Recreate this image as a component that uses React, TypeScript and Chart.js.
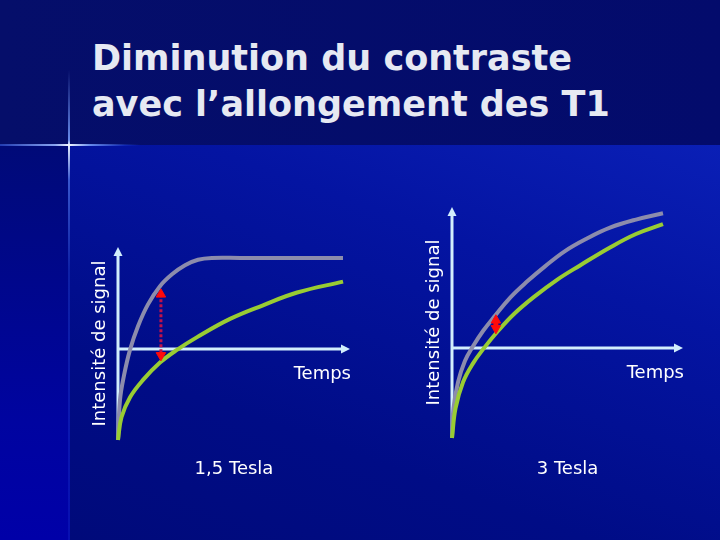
import { useEffect, useRef } from 'react';
import { Chart, registerables } from 'chart.js';

Chart.register(...registerables);

// ---- Text ----
const TITLE_LINES = ['Diminution du contraste', 'avec l\u2019allongement des T1'];
const Y_LABEL = 'Intensité de signal';
const X_LABEL = 'Temps';
const FIELD_LABELS = ['1,5 Tesla', '3 Tesla'];

// ---- 1,5 Tesla panel ----
const T15_SHORT_X = [0, 0.86, 2.59, 5.17, 8.62, 12.93, 18.1, 23.28, 28.88, 34.48, 40.52, 52.59, 96.98];
const T15_SHORT_Y = [-1, -0.56, -0.29, -0.01, 0.25, 0.49, 0.69, 0.82, 0.92, 0.98, 1.0, 1.0, 1.0];
const T15_LONG_X = [0, 1.5, 5.2, 10.8, 18.1, 25.4, 34.1, 48.3, 62.5, 77.2, 97];
const T15_LONG_Y = [-1, -0.75, -0.53, -0.34, -0.15, -0.01, 0.13, 0.33, 0.48, 0.62, 0.74];
const T15_GAP_X = [18.5, 18.5];
const T15_GAP_Y = [0.6, -0.07];
const T15_Y_RANGE = [-1, 1.12];

// ---- 3 Tesla panel ----
const T3_SHORT_X = [0, 0.65, 2.6, 5.63, 9.09, 13.42, 18.61, 25.11, 32.47, 40.26, 48.92, 58.44, 68.4, 79.65, 91.34];
const T3_SHORT_Y = [-1, -0.67, -0.38, -0.14, 0.02, 0.19, 0.36, 0.56, 0.74, 0.91, 1.08, 1.22, 1.34, 1.43, 1.5];
const T3_LONG_X = [0, 1.52, 4.76, 9.09, 13.85, 19.91, 26.84, 35.5, 45.45, 55.41, 68.4, 79.65, 91.34];
const T3_LONG_Y = [-1, -0.67, -0.38, -0.17, 0, 0.19, 0.38, 0.57, 0.76, 0.92, 1.12, 1.27, 1.38];
const T3_GAP_X = [19, 19];
const T3_GAP_Y = [0.31, 0.22];
const T3_Y_RANGE = [-1, 1.57];

const X_RANGE = [0, 100];

// ---- styles ----
const FONT = '"DejaVu Sans", sans-serif';
const GRAY = '#8c8cac';
const GREEN = '#99cc33';
const AXIS = '#d2eefc';
const RED = '#ff0a0a';
const RED_DASH = '#c0124a';
const TEXT = '#ffffff';

const zip = (xs: number[], ys: number[]) => xs.map((x, i) => ({ x, y: ys[i] }));

const arrowAxes = {
  id: 'arrowAxes',
  beforeDatasetsDraw(chart: any) {
    const { ctx, scales } = chart;
    const xs = scales.x;
    const ys = scales.y;
    const x0 = xs.getPixelForValue(0);
    const x1 = xs.getPixelForValue(xs.max);
    const y0 = ys.getPixelForValue(0);
    const yb = ys.getPixelForValue(ys.min);
    const yt = ys.getPixelForValue(ys.max);
    ctx.save();
    ctx.strokeStyle = AXIS;
    ctx.fillStyle = AXIS;
    ctx.lineWidth = 3;
    ctx.beginPath();
    ctx.moveTo(x0, yb);
    ctx.lineTo(x0, yt + 7);
    ctx.moveTo(x0 - 1.5, y0);
    ctx.lineTo(x1 - 7, y0);
    ctx.stroke();
    ctx.beginPath();
    ctx.moveTo(x0, yt);
    ctx.lineTo(x0 + 4.5, yt + 9);
    ctx.lineTo(x0 - 4.5, yt + 9);
    ctx.closePath();
    ctx.fill();
    ctx.beginPath();
    ctx.moveTo(x1, y0);
    ctx.lineTo(x1 - 9, y0 - 4.5);
    ctx.lineTo(x1 - 9, y0 + 4.5);
    ctx.closePath();
    ctx.fill();
    ctx.fillStyle = TEXT;
    ctx.font = `18px ${FONT}`;
    ctx.textAlign = 'right';
    ctx.textBaseline = 'alphabetic';
    ctx.fillText(X_LABEL, x1 + 1, y0 + 30);
    ctx.restore();
  },
};

type PanelCfg = {
  shortX: number[];
  shortY: number[];
  longX: number[];
  longY: number[];
  gapX: number[];
  gapY: number[];
  yRange: number[];
  fieldLabel: string;
  padding: { left: number; top: number; right: number; bottom: number };
  xTitlePad: number;
  diamond: boolean;
};

function buildConfig(p: PanelCfg): any {
  const curve = (xs: number[], ys: number[], color: string, order: number) => ({
    data: zip(xs, ys),
    borderColor: color,
    borderWidth: 4,
    tension: 0.4,
    pointRadius: 0,
    clip: false,
    order,
  });
  return {
    type: 'line',
    data: {
      datasets: [
        {
          data: zip(p.gapX, p.gapY),
          borderColor: p.diamond ? RED : RED_DASH,
          borderWidth: p.diamond ? 5 : 3,
          borderDash: p.diamond ? [] : [3, 2],
          tension: 0,
          pointStyle: 'triangle',
          pointRotation: [0, 180],
          pointRadius: 5.5,
          pointBackgroundColor: RED,
          pointBorderColor: RED,
          pointBorderWidth: 1,
          clip: false,
          order: 0,
        },
        curve(p.longX, p.longY, GREEN, 1),
        curve(p.shortX, p.shortY, GRAY, 2),
      ],
    },
    options: {
      animation: false,
      responsive: false,
      devicePixelRatio: 1,
      events: [],
      layout: { padding: p.padding },
      plugins: { legend: { display: false }, tooltip: { enabled: false }, title: { display: false } },
      scales: {
        x: {
          type: 'linear',
          min: X_RANGE[0],
          max: X_RANGE[1],
          grid: { display: false, drawTicks: false },
          border: { display: false },
          ticks: { display: false },
          title: {
            display: true,
            text: p.fieldLabel,
            color: TEXT,
            font: { family: FONT, size: 18, lineHeight: 1.2 },
            padding: { top: p.xTitlePad, bottom: 0 },
          },
        },
        y: {
          type: 'linear',
          min: p.yRange[0],
          max: p.yRange[1],
          grid: { display: false, drawTicks: false },
          border: { display: false },
          ticks: { display: false },
          title: {
            display: true,
            text: Y_LABEL,
            color: TEXT,
            font: { family: FONT, size: 18, lineHeight: 1.2 },
            padding: { top: 0, bottom: 7.2 },
          },
        },
      },
    },
    plugins: [arrowAxes],
  };
}

function Panel({ cfg }: { cfg: PanelCfg }) {
  const ref = useRef<HTMLCanvasElement>(null);
  useEffect(() => {
    if (!ref.current) return;
    const chart = new Chart(ref.current, buildConfig(cfg));
    return () => chart.destroy();
  }, [cfg]);
  return (
    <canvas
      ref={ref}
      width={720}
      height={540}
      style={{ position: 'absolute', left: 0, top: 0, width: 720, height: 540 }}
    />
  );
}

const PANEL_15: PanelCfg = {
  shortX: T15_SHORT_X,
  shortY: T15_SHORT_Y,
  longX: T15_LONG_X,
  longY: T15_LONG_Y,
  gapX: T15_GAP_X,
  gapY: T15_GAP_Y,
  yRange: T15_Y_RANGE,
  fieldLabel: FIELD_LABELS[0],
  padding: { left: 89.2, top: 247, right: 370, bottom: 59.7 },
  xTitlePad: 18.7,
  diamond: false,
};

const PANEL_3: PanelCfg = {
  shortX: T3_SHORT_X,
  shortY: T3_SHORT_Y,
  longX: T3_LONG_X,
  longY: T3_LONG_Y,
  gapX: T3_GAP_X,
  gapY: T3_GAP_Y,
  yRange: T3_Y_RANGE,
  fieldLabel: FIELD_LABELS[1],
  padding: { left: 423.2, top: 207, right: 37, bottom: 59.7 },
  xTitlePad: 20.7,
  diamond: true,
};

export default function App() {
  useEffect(() => {
    document.body.style.margin = '0';
  }, []);
  return (
    <div
      style={{
        position: 'fixed',
        left: 0,
        top: 0,
        width: 720,
        height: 540,
        overflow: 'hidden',
        background: '#000a78',
      }}
    >
      <div style={{ position: 'absolute', left: 0, top: 0, width: 720, height: 145, background: 'linear-gradient(to right, #050e6a, #030b6c)' }} />
      <div
        style={{
          position: 'absolute',
          left: 70,
          top: 145,
          width: 650,
          height: 395,
          background: 'linear-gradient(200deg, #0a1fb6 0%, #0414a2 30%, #000c86 70%, #000a7a 100%)',
        }}
      />
      <div
        style={{
          position: 'absolute',
          left: 0,
          top: 145,
          width: 70,
          height: 395,
          background: 'linear-gradient(to bottom, #000a78 0%, #0004a0 70%, #0000a8 100%)',
        }}
      />
      <div
        style={{
          position: 'absolute',
          left: 68,
          top: 70,
          width: 2,
          height: 470,
          background:
            'linear-gradient(to bottom, rgba(70,110,255,0) 0px, rgba(120,160,255,0.85) 70px, rgba(230,240,255,1) 75px, rgba(80,120,240,0.7) 110px, rgba(40,80,220,0.35) 200px, rgba(30,60,210,0.25) 100%)',
        }}
      />
      <div
        style={{
          position: 'absolute',
          left: 0,
          top: 144,
          width: 140,
          height: 2,
          background:
            'linear-gradient(to right, rgba(60,100,230,0.55) 0px, rgba(150,180,255,0.9) 55px, rgba(240,245,255,1) 69px, rgba(120,160,255,0.85) 90px, rgba(40,80,230,0.3) 125px, rgba(40,80,230,0) 140px)',
        }}
      />
      <div
        style={{
          position: 'absolute',
          left: 92,
          top: 35,
          color: '#e6e9f2',
          fontFamily: FONT,
          fontWeight: 'bold',
          fontSize: 35,
          lineHeight: '46px',
          whiteSpace: 'nowrap',
        }}
      >
        {TITLE_LINES.map((t) => (
          <div key={t}>{t}</div>
        ))}
      </div>
      <Panel cfg={PANEL_15} />
      <Panel cfg={PANEL_3} />
    </div>
  );
}
